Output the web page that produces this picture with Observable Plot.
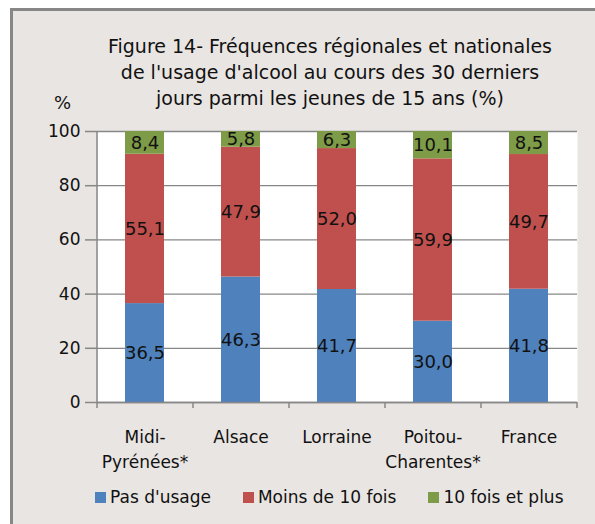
<!DOCTYPE html>
<html><head><meta charset="utf-8">
<script src="https://cdn.jsdelivr.net/npm/d3@7"></script>
<script src="https://cdn.jsdelivr.net/npm/@observablehq/plot@0.6"></script>
<style>
body{margin:0;width:595px;height:524px;overflow:hidden;background:#fff;font-family:"DejaVu Sans",sans-serif;position:relative;}
#frame{position:absolute;left:10px;top:8px;width:600px;height:530px;border-left:3px solid #878787;border-top:3px solid #878787;background:#e9e5e2;}
#title{position:absolute;left:0;top:33px;width:660px;text-align:center;font-size:19px;line-height:26px;color:#111;}
#pct{position:absolute;left:54px;top:92px;font-size:18px;color:#111;}
#chart{position:absolute;left:0;top:110px;}
#legend{position:absolute;left:95px;top:487px;display:flex;gap:32px;font-size:17px;color:#111;white-space:nowrap;}
#legend .it{display:flex;align-items:center;gap:4px;}
#legend .sw{width:11px;height:11px;display:inline-block;}
</style></head>
<body>
<div id="frame"></div>
<div id="title">Figure 14- Fréquences régionales et nationales<br>de l'usage d'alcool au cours des 30 derniers<br>jours parmi les jeunes de 15 ans (%)</div>
<div id="pct">%</div>
<div id="chart"></div>
<div id="legend"></div>
<script>
const categories = ["Midi-Pyrénées*", "Alsace", "Lorraine", "Poitou-Charentes*", "France"];
const tickLabels = ["Midi-\nPyrénées*", "Alsace", "Lorraine", "Poitou-\nCharentes*", "France"];
const series = ["Pas d'usage", "Moins de 10 fois", "10 fois et plus"];
const pasUsage = [36.5, 46.3, 41.7, 30.0, 41.8];
const moins10 = [55.1, 47.9, 52.0, 59.9, 49.7];
const plus10 = [8.4, 5.8, 6.3, 10.1, 8.5];
const colors = ["#4f81bd", "#c0504d", "#7e9b48"];
const yTicks = [0, 20, 40, 60, 80, 100];

const valuesBySeries = [pasUsage, moins10, plus10];
const rows = [];
series.forEach((s, si) => categories.forEach((c, ci) => rows.push({cat: c, series: s, value: valuesBySeries[si][ci]})));

const fmt = v => v.toFixed(1).replace(".", ",");
const labelOf = c => tickLabels[categories.indexOf(c)];
const gray = "#878787";
const width = 595, mL = 97, mR = 18;
const step = (width - mL - mR) / categories.length;

const plot = Plot.plot({
  width, height: 372,
  marginTop: 21, marginBottom: 80, marginLeft: mL, marginRight: mR,
  style: {background: "#ffffff00", fontFamily: "DejaVu Sans, sans-serif", color: "#111", overflow: "visible"},
  x: {domain: categories, paddingInner: 0.59, paddingOuter: 0.295, axis: null},
  y: {domain: [0, 100], axis: null},
  color: {domain: series, range: colors},
  marks: [
    Plot.frame({fill: "white", stroke: null}),
    Plot.gridY(yTicks, {stroke: gray, strokeOpacity: 1, strokeWidth: 1.3}),
    Plot.barY(rows, Plot.stackY({x: "cat", y: "value", z: "series", fill: "series", order: series})),
    Plot.text(rows, Plot.stackY({x: "cat", y: "value", z: "series", order: series, text: d => fmt(d.value), fontSize: 18, fill: "#111"})),
    Plot.ruleX(categories.slice(0, 1), {x: d => d, dx: -step / 2, stroke: gray, strokeWidth: 1.5}),
    Plot.ruleY([0], {stroke: gray, strokeWidth: 1.5}),
    Plot.axisY(yTicks, {tickSize: 12, tickPadding: 5, stroke: gray, strokeWidth: 1.5, fontSize: 17, fill: "#111", label: null}),
    Plot.axisX(categories, {tickSize: 6, tickFormat: () => "", dx: -step / 2, stroke: gray, strokeWidth: 1.5, label: null}),
    Plot.axisX(categories.slice(-1), {tickSize: 6, tickFormat: () => "", dx: step / 2, stroke: gray, strokeWidth: 1.5, label: null}),
    Plot.axisX(categories, {tickSize: 0, tickPadding: 23, tickFormat: labelOf, fontSize: 17, lineHeight: 1.45, fill: "#111", label: null})
  ]
});
document.getElementById("chart").appendChild(plot);

const leg = document.getElementById("legend");
series.forEach((s, i) => {
  const it = document.createElement("span");
  it.className = "it";
  const sw = document.createElement("span");
  sw.className = "sw";
  sw.style.background = colors[i];
  const t = document.createElement("span");
  t.textContent = s;
  it.appendChild(sw); it.appendChild(t);
  leg.appendChild(it);
});
</script>
</body></html>
